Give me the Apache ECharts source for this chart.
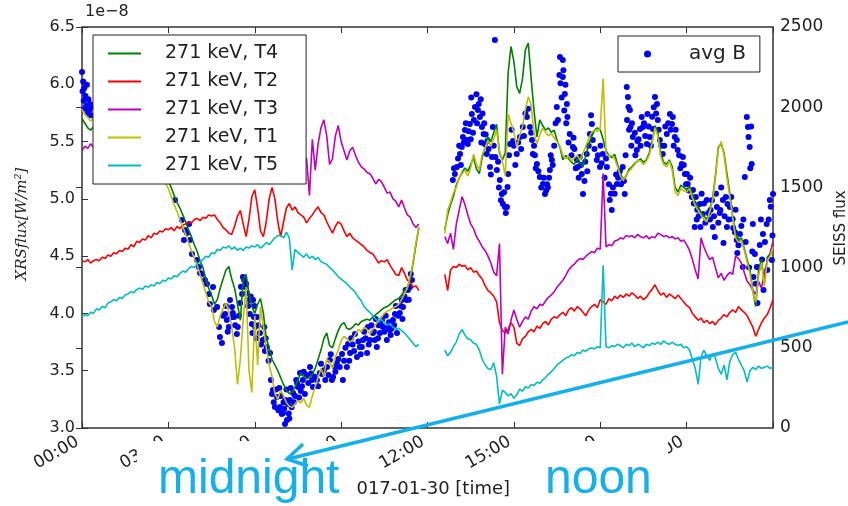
<!DOCTYPE html>
<html><head><meta charset="utf-8">
<script src="https://cdn.jsdelivr.net/npm/echarts@6/dist/echarts.min.js"></script>
<style>html,body{margin:0;padding:0;background:#fff}#c{width:848px;height:506px}</style>
</head><body><div id="c"></div>
<script>
// ---- time samples (hours of 2017-01-30) ----
const hoursLeft = [
0,0.1,0.2,0.3,0.4,0.5,0.6,0.7,0.8,0.9,
1,1.1,1.2,1.3,1.4,1.5,1.6,1.7,1.8,1.9,
2,2.1,2.2,2.3,2.4,2.5,2.6,2.7,2.8,2.9,
3,3.1,3.2,3.3,3.4,3.5,3.6,3.7,3.8,3.9,
4,4.1,4.2,4.3,4.4,4.5,4.6,4.7,4.8,4.9,
5,5.1,5.2,5.3,5.4,5.5,5.6,5.7,5.8,5.9,
6,6.1,6.2,6.3,6.4,6.5,6.6,6.7,6.8,6.9,
7,7.1,7.2,7.3,7.4,7.5,7.6,7.7,7.8,7.9,
8,8.1,8.2,8.3,8.4,8.5,8.6,8.7,8.8,8.9,
9,9.1,9.2,9.3,9.4,9.5,9.6,9.7,9.8,9.9,
10,10.1,10.2,10.3,10.4,10.5,10.6,10.7,10.8,10.9,
11,11.1,11.2,11.3,11.4,11.5,11.6,11.7];
const gapHour = 12.1;
const hoursRight = [
12.6,12.7,12.8,12.9,
13,13.1,13.2,13.3,13.4,13.5,13.6,13.7,13.8,13.9,
14,14.1,14.2,14.3,14.4,14.5,14.6,14.7,14.8,14.9,
15,15.1,15.2,15.3,15.4,15.5,15.6,15.7,15.8,15.9,
16,16.1,16.2,16.3,16.4,16.5,16.6,16.7,16.8,16.9,
17,17.1,17.2,17.3,17.4,17.5,17.6,17.7,17.8,17.9,
18,18.1,18.2,18.3,18.4,18.5,18.6,18.7,18.8,18.9,
19,19.1,19.2,19.3,19.4,19.5,19.6,19.7,19.8,19.9,
20,20.1,20.2,20.3,20.4,20.5,20.6,20.7,20.8,20.9,
21,21.1,21.2,21.3,21.4,21.5,21.6,21.7,21.8,21.9,
22,22.1,22.2,22.3,22.4,22.5,22.6,22.7,22.8,22.9,
23,23.1,23.2,23.3,23.4,23.5,23.6,23.7,23.8,23.9,
24];

// ---- XRS flux, units of 1e-8 W/m^2 ----
const t4Left = [
5.70,5.66,5.62,5.60,5.63,5.58,5.61,5.57,5.59,5.55,
5.57,5.53,5.56,5.52,5.54,5.50,5.48,5.51,5.46,5.44,
5.45,5.41,5.39,5.40,5.35,5.33,5.30,5.27,5.23,5.19,
5.15,5.10,5.03,4.97,4.92,4.86,4.80,4.73,4.67,4.60,
4.54,4.46,4.40,4.30,4.22,4.16,4.08,4.12,4.22,4.30,
4.38,4.41,4.30,4.22,4.08,3.94,4.30,4.34,4.18,4.06,
4.00,4.08,4.13,4.00,3.78,3.70,3.60,3.55,3.50,3.44,
3.38,3.33,3.30,3.31,3.36,3.42,3.48,3.45,3.43,3.44,
3.47,3.52,3.60,3.68,3.78,3.83,3.72,3.70,3.78,3.85,
3.90,3.92,3.87,3.86,3.88,3.91,3.90,3.93,3.94,3.95,
3.94,3.97,3.99,4.01,4.03,4.05,4.06,4.08,4.10,4.12,
4.13,4.16,4.20,4.23,4.30,4.44,4.60,4.75];
const t4Right = [
4.73,4.86,4.95,5.02,
5.12,5.18,5.23,5.27,5.24,5.30,5.36,5.26,5.22,5.36,
5.45,5.54,5.50,5.58,5.65,5.40,5.34,5.40,6.10,6.33,
6.20,5.98,5.92,6.05,6.30,6.36,6.05,5.77,5.54,5.69,
5.64,5.60,5.62,5.58,5.60,5.51,5.45,5.34,5.38,5.35,
5.32,5.30,5.35,5.32,5.28,5.38,5.48,5.54,5.60,5.62,
5.60,5.52,5.42,5.38,5.36,5.39,5.30,5.22,5.17,5.20,
5.26,5.28,5.31,5.33,5.35,5.32,5.34,5.40,5.50,5.64,
5.58,5.40,5.32,5.30,5.34,5.28,5.10,5.06,5.12,5.10,
5.08,5.11,5.04,4.96,4.93,4.88,4.85,4.82,4.90,5.00,
5.20,5.45,5.48,5.40,5.22,5.05,4.85,4.70,4.64,4.66,
4.57,4.47,4.38,4.20,4.06,4.38,4.47,4.26,4.49,4.52,
4.61];

const t2Left = [
4.46,4.45,4.47,4.44,4.46,4.47,4.46,4.49,4.48,4.51,
4.50,4.53,4.52,4.55,4.54,4.57,4.56,4.60,4.58,4.63,
4.62,4.65,4.64,4.68,4.66,4.70,4.69,4.72,4.71,4.74,
4.73,4.75,4.72,4.76,4.74,4.77,4.78,4.80,4.79,4.82,
4.83,4.81,4.84,4.83,4.86,4.85,4.86,4.82,4.79,4.75,
4.73,4.70,4.69,4.76,4.85,4.90,4.78,4.67,4.82,5.02,
5.08,4.92,4.72,4.67,4.80,5.00,5.10,5.00,4.80,4.67,
4.80,4.92,4.96,4.90,4.93,4.88,4.86,4.84,4.79,4.83,
4.86,4.90,4.93,4.88,4.86,4.80,4.75,4.70,4.76,4.80,
4.78,4.72,4.67,4.70,4.66,4.64,4.62,4.60,4.58,4.55,
4.53,4.52,4.48,4.44,4.46,4.45,4.47,4.42,4.38,4.34,
4.33,4.40,4.35,4.29,4.27,4.23,4.24,4.20];
const t2Right = [
4.34,4.20,4.38,4.41,
4.40,4.43,4.41,4.42,4.38,4.40,4.36,4.37,4.33,4.30,
4.24,4.20,4.18,4.15,4.10,3.92,3.85,3.83,3.86,3.92,
3.88,3.74,3.72,3.78,3.80,3.84,3.86,3.84,3.89,3.87,
3.91,3.93,3.90,3.95,3.97,3.96,3.99,4.01,3.98,4.03,
4.05,4.02,4.06,4.04,4.01,3.98,4.03,4.06,4.08,4.05,
4.12,4.10,4.08,4.13,4.11,4.15,4.13,4.16,4.14,4.17,
4.15,4.18,4.16,4.13,4.15,4.12,4.14,4.18,4.21,4.25,
4.20,4.16,4.18,4.14,4.17,4.15,4.13,4.16,4.13,4.10,
4.07,4.05,4.00,3.97,3.94,3.96,3.92,3.94,3.91,3.93,
3.90,3.94,3.96,3.99,3.97,4.01,4.03,4.01,4.06,4.03,
4.01,3.98,3.93,3.88,3.80,3.86,3.92,3.96,3.99,4.05,
4.12];

const t3Left = [
5.42,5.46,5.44,5.48,5.45,5.47,5.50,5.48,5.51,5.49,
5.52,5.50,5.53,5.51,5.54,5.52,5.55,5.53,5.56,5.54,
5.57,5.55,5.58,5.56,5.59,5.57,5.60,5.58,5.61,5.59,
5.62,5.60,5.63,5.61,5.64,5.62,5.60,5.63,5.61,5.64,
5.62,5.65,5.63,5.60,5.64,5.62,5.59,5.63,5.60,5.58,
5.61,5.57,5.60,5.56,5.59,5.55,5.58,5.54,5.57,5.53,
5.56,5.52,5.55,5.50,5.53,5.49,5.52,5.47,5.50,5.46,
5.48,5.44,5.47,5.42,5.45,5.40,5.43,5.38,5.35,5.03,
5.52,5.25,5.48,5.62,5.69,5.55,5.30,5.35,5.55,5.64,
5.50,5.42,5.34,5.42,5.45,5.38,5.32,5.28,5.26,5.23,
5.22,5.18,5.13,5.17,5.15,5.10,5.05,5.06,5.00,4.98,
4.93,4.99,4.92,4.86,4.84,4.78,4.75,4.78];
const t3Right = [
4.67,4.61,4.70,4.56,
4.78,4.90,5.02,4.95,4.86,4.78,4.74,4.67,4.63,4.58,
4.55,4.50,4.44,4.36,4.33,4.61,3.47,3.88,3.82,3.94,
4.03,3.95,3.88,3.93,3.97,3.95,4.02,4.06,4.04,4.08,
4.07,4.11,4.14,4.16,4.19,4.23,4.26,4.29,4.33,4.38,
4.41,4.43,4.46,4.48,4.47,4.50,4.52,4.54,4.53,4.57,
4.56,5.22,4.58,4.60,4.59,4.63,4.64,4.66,4.65,4.68,
4.67,4.68,4.66,4.69,4.67,4.66,4.68,4.65,4.67,4.66,
4.70,4.69,4.67,4.68,4.66,4.67,4.65,4.66,4.63,4.64,
4.60,4.55,4.47,4.38,4.30,4.66,4.58,4.52,4.47,4.49,
4.40,4.31,4.35,4.29,4.33,4.36,4.34,4.50,4.48,4.44,
4.36,4.28,4.25,4.20,4.17,4.28,4.22,4.35,4.45,4.52,
4.63];

const t1Left = [
5.78,5.74,5.71,5.68,5.70,5.66,5.68,5.63,5.65,5.61,
5.62,5.58,5.60,5.55,5.56,5.52,5.50,5.52,5.47,5.45,
5.44,5.40,5.38,5.37,5.32,5.29,5.26,5.22,5.18,5.14,
5.09,5.02,4.95,4.89,4.82,4.76,4.69,4.62,4.55,4.48,
4.42,4.34,4.26,4.18,4.10,4.06,3.93,3.88,3.98,4.04,
4.09,4.02,3.88,3.70,3.38,3.60,3.95,4.23,3.50,3.31,
3.98,3.55,4.06,3.88,3.70,3.55,3.45,3.30,3.25,3.33,
3.28,3.22,3.19,3.18,3.21,3.24,3.22,3.26,3.20,3.18,
3.28,3.36,3.44,3.52,3.45,3.60,3.58,3.52,3.62,3.68,
3.76,3.80,3.78,3.75,3.77,3.82,3.86,3.84,3.88,3.86,
3.82,3.86,3.90,3.94,3.97,4.00,4.02,4.03,4.05,4.06,
4.08,4.12,4.17,4.22,4.33,4.45,4.62,4.75];
const t1Right = [
4.70,4.90,4.97,5.05,
5.10,5.18,5.22,5.25,5.20,5.27,5.39,5.30,5.25,5.39,
5.44,5.51,5.46,5.52,5.60,5.42,5.33,5.20,5.74,5.66,
5.58,5.45,5.55,5.63,5.78,5.89,5.82,5.57,5.48,5.56,
5.62,5.58,5.55,5.57,5.53,5.50,5.46,5.38,5.35,5.37,
5.33,5.36,5.38,5.34,5.40,5.46,5.53,5.58,5.60,5.59,
5.62,6.05,5.40,5.37,5.38,5.35,5.28,5.20,5.16,5.21,
5.24,5.27,5.30,5.34,5.33,5.30,5.33,5.38,5.48,5.62,
5.55,5.37,5.30,5.28,5.33,5.25,5.06,5.03,5.09,5.07,
5.06,5.09,5.01,4.94,4.90,4.86,4.82,4.80,4.88,4.98,
5.18,5.43,5.50,5.38,5.18,5.02,4.83,4.66,4.62,4.64,
4.55,4.45,4.35,4.18,4.10,4.33,4.44,4.24,4.46,4.50,
4.58];

const t5Left = [
3.97,3.99,3.98,4.01,4.00,4.04,4.03,4.06,4.05,4.09,
4.10,4.12,4.11,4.14,4.13,4.16,4.17,4.19,4.18,4.21,
4.22,4.21,4.24,4.23,4.25,4.24,4.27,4.26,4.29,4.28,
4.31,4.30,4.33,4.32,4.35,4.37,4.36,4.39,4.41,4.40,
4.43,4.45,4.47,4.50,4.49,4.53,4.52,4.56,4.55,4.58,
4.57,4.59,4.56,4.58,4.55,4.57,4.55,4.58,4.57,4.59,
4.58,4.60,4.57,4.59,4.62,4.60,4.63,4.66,4.68,4.68,
4.66,4.71,4.66,4.38,4.56,4.53,4.51,4.49,4.52,4.48,
4.50,4.47,4.49,4.45,4.44,4.43,4.40,4.38,4.35,4.32,
4.30,4.28,4.26,4.23,4.21,4.18,4.14,4.11,4.06,4.03,
4.01,3.98,3.95,3.93,3.95,3.92,3.90,3.91,3.88,3.86,
3.87,3.85,3.83,3.80,3.77,3.74,3.71,3.73];
const t5Right = [
3.68,3.63,3.66,3.71,
3.75,3.82,3.86,3.81,3.78,3.77,3.74,3.73,3.68,3.60,
3.55,3.52,3.51,3.57,3.45,3.21,3.33,3.31,3.28,3.30,
3.26,3.29,3.34,3.32,3.36,3.35,3.38,3.37,3.40,3.39,
3.42,3.44,3.47,3.49,3.52,3.55,3.57,3.59,3.61,3.62,
3.64,3.63,3.66,3.65,3.68,3.67,3.69,3.70,3.69,3.71,
3.70,4.42,3.71,3.70,3.72,3.71,3.73,3.72,3.70,3.73,
3.72,3.74,3.71,3.73,3.72,3.70,3.73,3.72,3.74,3.73,
3.75,3.73,3.76,3.74,3.73,3.75,3.73,3.72,3.73,3.70,
3.71,3.68,3.60,3.52,3.38,3.62,3.68,3.63,3.59,3.65,
3.61,3.52,3.47,3.55,3.42,3.58,3.64,3.66,3.60,3.55,
3.50,3.40,3.50,3.53,3.51,3.54,3.52,3.53,3.54,3.52,
3.53];

// ---- SEISS avg B (right axis) ----
const avgBTime = [
0.00,0.02,0.04,0.06,0.08,0.10,0.12,0.15,0.17,0.19,
0.22,0.25,0.28,0.31,0.34,0.6,0.9,1.2,1.5,1.8,
2.1,2.4,2.7,2.95,3.23,3.47,3.54,3.58,3.65,3.72,
3.75,3.82,3.99,4.06,4.10,4.17,4.27,4.34,4.41,4.44,
4.55,4.58,4.69,4.76,4.79,4.86,4.97,5.03,5.10,5.14,
5.21,5.24,5.28,5.38,5.41,5.49,5.56,5.59,5.63,5.66,
5.73,5.80,5.83,5.90,5.92,5.94,5.97,6.01,6.08,6.18,
6.28,6.33,6.35,6.42,6.53,6.60,6.63,6.70,6.77,6.85,
6.88,6.94,6.98,7.00,7.05,7.07,7.12,7.15,7.18,7.22,
7.28,7.33,7.40,7.47,7.50,7.57,7.60,7.67,7.74,7.80,
7.92,7.99,8.02,8.16,8.26,8.33,8.40,8.51,8.61,8.68,
8.72,8.78,8.85,8.90,9.03,9.06,9.20,9.24,9.31,9.40,
9.48,9.55,9.65,9.72,9.76,9.85,9.90,9.93,10.00,10.10,
10.17,10.24,10.30,10.35,10.42,10.45,10.59,10.63,10.69,10.75,
10.80,10.87,10.94,11.04,11.11,11.15,11.20,11.28,11.32,11.39,
11.46,12.88,12.95,13.02,13.13,13.19,13.23,13.30,13.37,13.40,
13.47,13.54,13.58,13.65,13.75,13.78,13.82,13.89,13.91,13.95,
13.99,14.06,14.08,14.17,14.24,14.27,14.34,14.36,14.41,14.51,
14.58,14.62,14.69,14.76,14.78,14.80,14.86,14.97,15.10,15.21,
15.31,15.45,15.56,15.63,15.66,15.73,15.80,15.90,16.01,16.08,
16.15,16.18,16.25,16.32,16.35,16.49,16.53,16.60,16.70,16.72,
16.70,16.77,16.79,16.84,16.86,16.94,17.05,17.07,17.19,17.22,
17.29,17.36,17.40,17.53,17.55,17.64,17.71,17.74,17.88,17.99,
18.01,18.09,18.23,18.33,18.40,18.44,18.58,18.68,18.78,18.85,
18.92,18.96,18.98,19.03,19.05,18.93,19.13,19.27,19.29,19.38,
19.44,19.48,19.62,19.64,19.72,19.83,19.90,19.97,20.00,20.07,
20.17,20.31,20.42,20.49,20.52,20.59,20.66,20.69,20.83,20.87,
20.94,21.01,21.04,21.18,21.22,21.28,21.35,21.37,21.46,21.48,
21.56,21.70,21.81,21.83,21.91,21.98,22.05,22.15,22.17,22.26,
22.28,22.40,22.42,22.50,22.60,22.62,22.74,22.76,22.85,22.95,
22.97,23.02,23.09,23.13,23.15,23.19,23.21,23.26,23.30,23.32,
23.37,23.44,23.46,23.54,23.65,23.67,23.78,23.80,23.89,23.96,
24.00];
const avgBValue = [
2220,2100,2160,2040,2120,1990,2070,2010,2140,1960,
2050,1980,2020,1950,2000,1900,1850,1830,1780,1740,
1700,1650,1600,1546,1421,1297,1172,1234,1216,1272,
1172,1085,1047,1004,966,960,923,898,835,773,
879,736,754,630,567,530,711,673,630,798,
754,717,692,586,630,779,835,941,923,879,
840,798,711,648,592,798,692,630,692,592,
549,630,480,505,468,212,237,131,193,250,
131,87,94,160,25,175,50,150,90,175,
130,218,200,280,256,343,230,299,212,330,
380,299,256,299,343,337,360,380,424,299,
318,380,405,430,461,299,380,524,468,520,
586,443,505,505,549,560,468,630,549,592,
549,505,640,592,673,630,549,630,611,620,
673,711,592,717,798,754,820,798,860,879,
923,1546,1583,1627,1708,1752,1814,1858,1795,1770,
1895,1957,1840,2001,1982,2020,1939,1876,1960,1833,
1770,1708,1790,1627,1690,1876,2419,1690,1608,1546,
1459,1396,1378,1378,1502,1583,1770,1790,1708,1814,
1876,1939,1876,1795,1708,1700,1646,1565,1521,1459,
1520,1500,1608,1671,1640,2001,1920,2313,2294,2230,
2188,2082,2140,2020,1939,1833,1752,1810,1671,1627,
1690,1583,1459,1708,1600,1833,1895,1795,1671,1627,
1760,1708,1627,1421,1359,1500,1521,1600,1627,1459,
2126,2063,2001,1982,1876,1920,1814,1733,1790,1864,
1939,1876,1770,1957,1814,1864,2063,2020,1920,1795,
1708,1833,1957,1895,1939,1814,1795,1733,1646,1690,
1583,1583,1521,1440,1484,1253,1300,1360,1396,1253,
1334,1421,1300,1359,1253,1190,1378,1340,1359,1421,
1153,1253,1396,1378,1303,1247,1172,1091,1209,1004,
1300,1565,1939,1876,1814,1752,1620,1646,1272,941,
1085,1004,779,1141,1209,860,1272,985,1421,1047,
1459];
// additional dense readings of avg B
const avgBTime2 = [
4.90,5.00,5.06,5.18,5.32,5.45,5.52,5.70,5.77,5.86,
5.99,6.05,6.12,6.22,6.38,6.48,6.56,6.66,6.74,6.82,
6.91,7.02,7.10,7.20,7.25,7.36,7.44,7.54,7.64,7.70,
7.86,7.96,8.08,8.20,8.30,8.45,8.56,8.64,8.80,8.95,
9.10,9.15,9.28,9.35,9.45,9.60,9.68,9.80,9.96,10.05,
10.14,10.20,10.28,10.38,10.50,10.55,10.66,10.72,10.84,10.90,
10.98,11.07,11.13,11.24,11.35,11.42,
12.92,13.06,13.10,13.16,13.26,13.33,13.43,13.50,13.52,13.61,
13.70,13.72,13.85,13.87,13.97,14.02,14.12,14.20,14.30,14.45,
14.48,14.55,14.66,14.72,14.83,14.92,15.00,15.05,15.15,15.25,
15.35,15.40,15.50,15.60,15.70,15.76,15.85,15.95,16.04,16.12,
16.22,16.28,16.40,16.45,16.58,16.62,16.66,16.75,16.82,16.90,
17.00,17.10,17.15,17.25,17.33,17.45,17.48,17.60,17.68,17.80,
17.92,18.05,18.15,18.20,18.30,18.37,18.50,18.55,18.62,18.72,
18.82,18.88,19.00,19.08,19.10,19.20,19.22,19.33,19.40,19.52,
19.56,19.68,19.76,19.80,19.86,19.94,20.03,20.12,20.22,20.26,
20.36,20.45,20.55,20.62,20.74,20.78,20.90,20.98,21.08,21.12,
21.25,21.32,21.42,21.52,21.60,21.65,21.75,21.88,21.95,22.02,
22.10,22.20,22.32,22.36,22.46,22.55,22.68,22.70,22.80,22.90,
23.05,23.17,23.24,23.28,23.40,23.50,23.58,23.62,23.72,23.85,
23.92,23.98];
const avgBValue2 = [
700,760,600,690,640,700,880,900,760,820,
760,560,640,520,560,420,300,160,240,110,
200,120,240,60,250,160,300,190,260,350,
280,340,320,260,400,300,330,460,350,380,
420,500,420,560,480,540,460,600,520,640,
600,680,560,640,600,700,660,580,640,760,
700,760,680,860,800,960,
1620,1680,1760,1640,1780,1900,1850,1800,2060,1920,
2080,1900,2050,1780,1900,1830,1740,1580,1760,1660,
1500,1420,1470,1340,1700,1860,1760,1640,1780,1740,
1820,1960,1990,1840,1760,1620,1600,1500,1560,1480,
1560,1700,1760,1900,2200,2150,2060,1980,1900,1780,
1700,1740,1620,1560,1640,1540,1660,1760,1950,1740,
1700,1650,1560,1680,1520,1460,1460,1580,1560,1520,
1540,1700,1860,1760,1900,1840,1700,1800,1760,1900,
1820,1880,1760,1940,2000,1960,1860,1760,1760,1880,
1900,1860,1760,1860,1700,1620,1640,1520,1480,1560,
1400,1440,1320,1460,1400,1280,1340,1420,1320,1460,
1280,1500,1320,1440,1300,1440,1220,1360,1140,1260,
1160,1000,1880,1100,900,1000,1300,1050,1160,1300,
1380,1200];

const seriesNames = ['271 keV, T4','271 keV, T2','271 keV, T3','271 keV, T1','271 keV, T5'];
const seriesColors = ['#008000','#ff0000','#bf00bf','#bfbf00','#00bfbf'];

const FONT = 'DejaVu Sans';
const hours = [...hoursLeft, gapHour, ...hoursRight];
function pts(left, right){
  const v = [...left, null, ...right];
  return hours.map((h,i)=>[h, v[i] === null ? '-' : v[i]]);
}
const lineData = [pts(t4Left,t4Right), pts(t2Left,t2Right), pts(t3Left,t3Right), pts(t1Left,t1Right), pts(t5Left,t5Right)];
const bTimes = [...avgBTime, ...avgBTime2];
const bVals = [...avgBValue, ...avgBValue2];

const chart = echarts.init(document.getElementById('c'), null, {renderer:'canvas'});
const tickStyle = {inside:true, length:6, lineStyle:{color:'#333', width:1}};
const ANN = '#12b0ee';
const LINE_ICON = 'path://M0,0L40,0L40,2.4L0,2.4Z';
const option = {
  animation:false,
  backgroundColor:'#ffffff',
  grid:{left:82, right:75, top:27, bottom:78, show:true, borderColor:'#333', borderWidth:1.5, backgroundColor:'transparent'},
  legend:[{
    data:seriesNames.map(n=>({name:n, icon:LINE_ICON})), orient:'vertical', left:93, top:35,
    padding:[9,28,9,15], itemGap:9, itemWidth:33, itemHeight:14,
    backgroundColor:'#fff', borderColor:'#222', borderWidth:1, borderRadius:0,
    selectedMode:false, symbolKeepAspect:true,
    textStyle:{fontFamily:FONT, fontSize:19, color:'#222', lineHeight:18, padding:[0,0,0,19]}
  },{
    data:[{name:'avg B', icon:'circle'}], orient:'vertical', left:618, top:36,
    padding:[8,14,8,26], itemWidth:7, itemHeight:7,
    backgroundColor:'#fff', borderColor:'#222', borderWidth:1, borderRadius:0,
    selectedMode:false,
    textStyle:{fontFamily:FONT, fontSize:20, color:'#222', lineHeight:19, padding:[0,0,0,33]}
  }],
  xAxis:[{
    type:'value', min:0, max:24, interval:3, position:'bottom',
    axisLine:{show:false}, axisTick:tickStyle, splitLine:{show:false},
    axisLabel:{rotate:30, margin:10, padding:[0,5,0,0], fontSize:17, color:'#222', fontFamily:FONT,
      formatter:v=> v===24 ? '' : String(v).padStart(2,'0')+':00'},
    name:'2017-01-30 [time]', nameLocation:'middle', nameGap:52,
    nameTextStyle:{fontFamily:FONT, fontSize:18, color:'#222'}
  },{
    type:'value', min:0, max:24, interval:3, position:'top',
    axisLine:{show:false}, axisTick:tickStyle, splitLine:{show:false}, axisLabel:{show:false}
  }],
  yAxis:[{
    type:'value', min:3, max:6.5, interval:0.5, position:'left',
    axisLine:{show:false}, axisTick:tickStyle, splitLine:{show:false},
    axisLabel:{fontSize:16, color:'#222', fontFamily:FONT, margin:7, formatter:v=>v.toFixed(1)}
  },{
    type:'value', min:0, max:2500, interval:500, position:'right',
    axisLine:{show:false}, axisTick:tickStyle, splitLine:{show:false},
    axisLabel:{fontSize:17, color:'#222', fontFamily:FONT, margin:7, formatter:v=>String(v)}
  }],
  series:[
    {name:'avg B', type:'scatter', yAxisIndex:1, symbolSize:6, z:2,
     itemStyle:{color:'#0000ff', opacity:1}, data:bTimes.map((t,i)=>[t, bVals[i]])},
    ...seriesNames.map((n,k)=>({
      name:n, type:'line', data:lineData[k], showSymbol:false, symbol:'none', z:3,
      lineStyle:{color:seriesColors[k], width:1.6}, itemStyle:{color:seriesColors[k]}
    }))
  ],
  graphic:[
    {type:'text', left:85, top:4, z:60, style:{text:'1e\u22128', font:'16px "DejaVu Sans"', fill:'#222'}},
    {type:'text', x:22, y:224, rotation:Math.PI/2, z:60,
     style:{text:'XRSflux[W/m\u00b2]', font:'italic 15px "DejaVu Serif"', fill:'#222', textAlign:'center', textVerticalAlign:'middle', verticalAlign:'middle'}},
    {type:'text', x:841, y:228, rotation:Math.PI/2, z:60,
     style:{text:'SEISS flux', font:'15px "DejaVu Sans"', fill:'#222', textAlign:'center', textVerticalAlign:'middle', verticalAlign:'middle'}},
    {type:'rect', z:90, shape:{x:137, y:441, width:219, height:65}, style:{fill:'#ffffff'}},
    {type:'rect', z:90, shape:{x:540, y:441, width:128, height:65}, style:{fill:'#ffffff'}},
    {type:'text', x:158, y:480, z:95,
     style:{text:'midnight', font:'48px "Liberation Sans"', fill:ANN, textAlign:'left', textVerticalAlign:'middle', verticalAlign:'middle'}},
    {type:'text', x:545, y:480, z:95,
     style:{text:'noon', font:'48px "Liberation Sans"', fill:ANN, textAlign:'left', textVerticalAlign:'middle', verticalAlign:'middle'}},
    {type:'line', z:96, shape:{x1:848, y1:322, x2:288, y2:459}, style:{stroke:ANN, lineWidth:3.5}},
    {type:'polyline', z:96, shape:{points:[[303,444],[287,459],[308,466]]}, style:{stroke:ANN, lineWidth:3.5, fill:null}}
  ]
};
chart.setOption(option);
</script>
</body></html>
